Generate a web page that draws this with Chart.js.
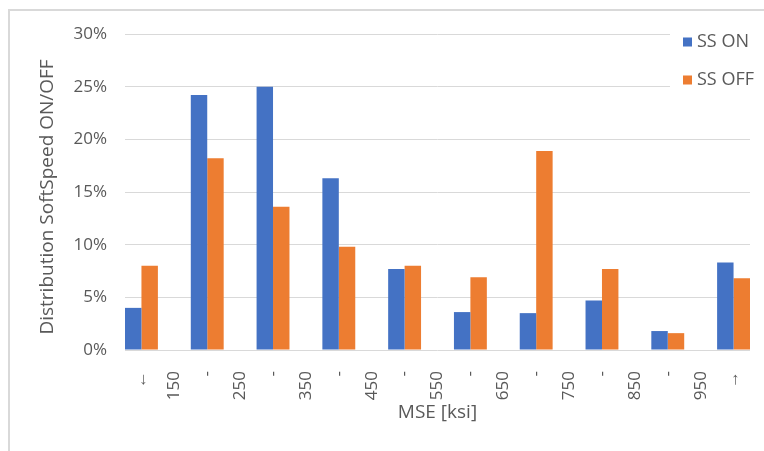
<!DOCTYPE html>
<html>
<head>
<meta charset="UTF-8">
<title>Distribution SoftSpeed ON/OFF</title>
<script src="https://cdn.jsdelivr.net/npm/chart.js@4.4.1/dist/chart.umd.min.js"></script>
<style>
  body { margin: 0; background: #fff; }
  .marco { position: relative; width: 764px; height: 451px; }
</style>
</head>
<body>
<div class="marco"><canvas id="grafica"></canvas></div>

<script>
  // etiquetas del eje X tal como salen (texto girado, en dos lineas)
  const categorias = [['←', '150'], ['-', '250'], ['-', '350'], ['-', '450'], ['-', '550'],
                      ['-', '650'], ['-', '750'], ['-', '850'], ['-', '950'], ['→']];
  const series = ['SS ON', 'SS OFF'];
  const valoresOn = [4.0, 24.2, 25.0, 16.3, 7.7, 3.6, 3.5, 4.7, 1.8, 8.3];
  const valoresOff = [8.0, 18.2, 13.6, 9.8, 8.0, 6.9, 18.9, 7.7, 1.6, 6.8];
  const ticksY = [0, 5, 10, 15, 20, 25, 30];
  const colores = ['#4472C4', '#ED7D31'];

  const gris = '#595959';
  Chart.defaults.font.family = '"Open Sans", sans-serif';
  Chart.defaults.color = gris;

  // marco gris arriba y a la izquierda
  const marco = {
    id: 'marco',
    beforeDraw(chart) {
      const ctx = chart.ctx;
      ctx.save();
      ctx.fillStyle = '#fff';
      ctx.fillRect(0, 0, chart.width, chart.height);
      ctx.fillStyle = '#d9d9d9';
      ctx.fillRect(8, 9, chart.width - 8, 2);
      ctx.fillRect(8, 9, 2, chart.height - 9);
      ctx.restore();
    }
  };

  // leyenda dentro del area, con fondo blanco encima de la cuadricula
  const leyenda = {
    id: 'leyenda',
    afterDraw(chart) {
      const ctx = chart.ctx;
      ctx.save();
      ctx.fillStyle = '#fff';
      ctx.fillRect(670, 22, 94, 76);
      ctx.font = '18px "Open Sans"';
      ctx.textBaseline = 'middle';
      chart.data.datasets.forEach((ds, i) => {
        const y = 42 + i * 38;
        ctx.fillStyle = ds.backgroundColor;
        ctx.fillRect(683, y - 4.5, 9, 9);
        ctx.fillStyle = gris;
        ctx.fillText(ds.label, 697, y);
      });
      ctx.restore();
    }
  };

  const ctx = document.getElementById('grafica').getContext('2d');

  new Chart(ctx, {
    type: 'bar',
    data: {
      labels: categorias,
      datasets: [
        { label: series[0], data: valoresOn, backgroundColor: colores[0] },
        { label: series[1], data: valoresOff, backgroundColor: colores[1] }
      ]
    },
    options: {
      responsive: true,
      maintainAspectRatio: false,
      animation: false,
      datasets: { bar: { categoryPercentage: 0.5, barPercentage: 1 } },
      layout: { padding: { top: 34, right: 14, bottom: 0, left: 0 } },
      scales: {
        x: {
          grid: { display: false },
          border: { display: false },
          ticks: {
            autoSkip: false,
            minRotation: 90,
            maxRotation: 90,
            padding: 13,
            font: { size: 17, lineHeight: '33px' }
          },
          title: { display: true, text: 'MSE [ksi]', font: { size: 19 }, padding: { top: 0, bottom: 27 } },
          // grupos pegados a los bordes como en Excel
          afterBuildTicks: (s) => { s._startValue = -0.25; s._valueRange = categorias.length - 0.5; },
          afterFit: (s) => { s.height = 101; s.paddingLeft = 0; s.paddingRight = 0; }
        },
        y: {
          min: ticksY[0],
          max: ticksY[ticksY.length - 1],
          grid: { color: '#d9d9d9', lineWidth: 1, drawTicks: false },
          border: { display: false },
          ticks: {
            stepSize: ticksY[1] - ticksY[0],
            padding: 18,
            font: { size: 17 },
            callback: (v) => v + '%'
          },
          title: { display: true, text: 'Distribution SoftSpeed ON/OFF  ', font: { size: 19 }, padding: { top: 36, bottom: 0 } },
          afterFit: (s) => { s.width = 125; }
        }
      },
      plugins: {
        legend: { display: false },
        tooltip: { enabled: false }
      }
    },
    plugins: [marco, leyenda]
  });
</script>
</body>
</html>
